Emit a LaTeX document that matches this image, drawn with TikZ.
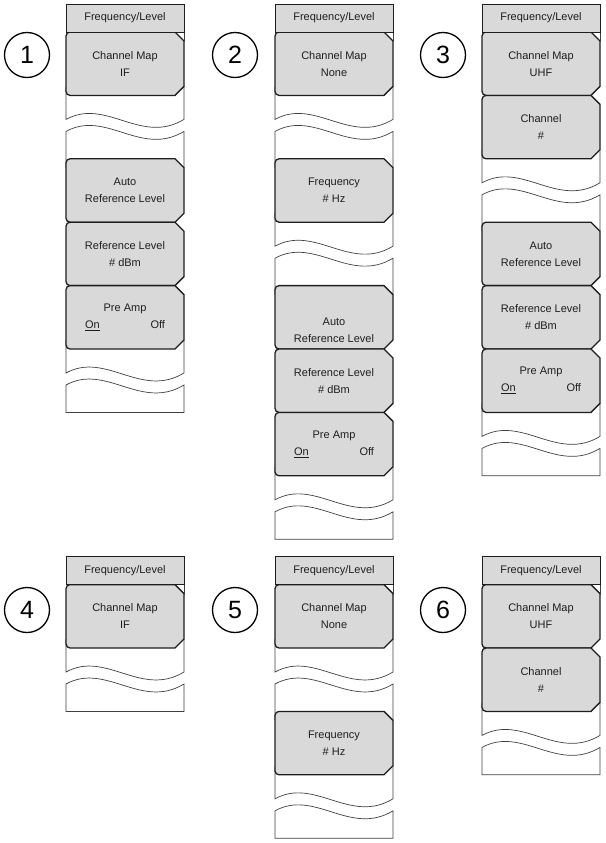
\documentclass[tikz,border=0pt]{standalone}
\usepackage{fontspec}
\setmainfont{Liberation Sans}
\definecolor{btnfill}{RGB}{217,217,217}
\definecolor{ink}{RGB}{30,30,30}
\tikzset{
  btnline/.style={draw=ink, line width=1.3pt, fill=btnfill},
  hdrline/.style={draw=ink, line width=0.9pt, fill=btnfill},
  frameline/.style={draw=black!75, line width=0.7pt},
  lbl/.style={font=\fontsize{11}{17}\selectfont, text=ink, align=center, inner sep=0pt},
  numcirc/.style={circle, draw=black, line width=1.3pt, minimum size=45pt, inner sep=0pt, font=\fontsize{25}{25}\selectfont},
}
% header: name, x, top
\newcommand\MyHdr[3]{%
  \draw[frameline] (#2+118,#3+28) -- (#2+118,#3+38);
  \draw[hdrline] (#2,#3) rectangle ++(118,28);
  \node[lbl] (#1) at (#2+59,#3+14) {Frequency/Level};
}
% button: [yshift], name, x, top, slot, text
\newcommand\MyBtn[6][0]{%
  \pgfmathsetmacro\myBT{#4+#5*63.4}%
  \pgfmathsetmacro\myBB{\myBT+63.4}%
  \pgfmathsetmacro\myBL{#3}%
  \pgfmathsetmacro\myBR{#3+118}%
  \draw[btnline] (\myBR-9,\myBT) -- (\myBR,\myBT+9) -- (\myBR,\myBB-9) -- (\myBR-9,\myBB)
     -- (\myBL+4,\myBB) arc[start angle=90,end angle=180,radius=4]
     -- (\myBL,\myBT+4) arc[start angle=180,end angle=270,radius=4] -- cycle;
  \node[lbl] (#2) at (\myBL+59,\myBT+31.7+#1) {#6};
}
% gap with break: x, top, slot
\newcommand\MyGap[3]{%
  \pgfmathsetmacro\myGT{#2+#3*63.4}%
  \draw[frameline] (#1,\myGT-9) -- (#1,\myGT+24) .. controls (#1+40,\myGT+2) and (#1+75,\myGT+50) .. (#1+118,\myGT+24) -- (#1+118,\myGT-9);
  \draw[frameline] (#1,\myGT+72.4) -- (#1,\myGT+36) .. controls (#1+40,\myGT+14) and (#1+75,\myGT+62) .. (#1+118,\myGT+36) -- (#1+118,\myGT+72.4);
}
% final gap with bottom
\newcommand\MyGapEnd[3]{%
  \pgfmathsetmacro\myGT{#2+#3*63.4}%
  \draw[frameline] (#1,\myGT-9) -- (#1,\myGT+24) .. controls (#1+40,\myGT+2) and (#1+75,\myGT+50) .. (#1+118,\myGT+24) -- (#1+118,\myGT-9);
  \draw[frameline] (#1+118,\myGT+36) .. controls (#1+75,\myGT+62) and (#1+40,\myGT+14) .. (#1,\myGT+36) -- (#1,\myGT+63.4) -- (#1+118,\myGT+63.4) -- cycle;
}
\newcommand\MyAuto{Auto\\Reference Level}
\newcommand\MyRef{Reference Level\\\# dBm}
\newcommand\MyPre{Pre Amp\\\makebox[80pt]{\underline{On}\hfill Off}}
\begin{document}
\begin{tikzpicture}[x=1pt,y=-1pt]
\useasboundingbox (0,0) rectangle (605,843);
% ---------- column 1 ----------
\MyGap{66}{32}{1}
\MyGapEnd{66}{32}{5}
\MyBtn{c1a}{66}{32}{0}{Channel Map\\IF}
\MyBtn{c1b}{66}{32}{2}{\MyAuto}
\MyBtn{c1c}{66}{32}{3}{\MyRef}
\MyBtn{c1d}{66}{32}{4}{\MyPre}
\MyHdr{h1}{66}{4}
% ---------- column 2 ----------
\MyGap{275}{32}{1}
\MyGap{275}{32}{3}
\MyGapEnd{275}{32}{7}
\MyBtn{c2a}{275}{32}{0}{Channel Map\\None}
\MyBtn{c2b}{275}{32}{2}{Frequency\\\# Hz}
\MyBtn[13]{c2c}{275}{32}{4}{\MyAuto}
\MyBtn{c2d}{275}{32}{5}{\MyRef}
\MyBtn{c2e}{275}{32}{6}{\MyPre}
\MyHdr{h2}{275}{4}
% ---------- column 3 ----------
\MyGap{482}{32}{2}
\MyGapEnd{482}{32}{6}
\MyBtn{c3a}{482}{32}{0}{Channel Map\\UHF}
\MyBtn{c3b}{482}{32}{1}{Channel\\\#}
\MyBtn{c3c}{482}{32}{3}{\MyAuto}
\MyBtn{c3d}{482}{32}{4}{\MyRef}
\MyBtn{c3e}{482}{32}{5}{\MyPre}
\MyHdr{h3}{482}{4}
% ---------- column 4 ----------
\MyGapEnd{66}{584.6}{1}
\MyBtn{c4a}{66}{584.6}{0}{Channel Map\\IF}
\MyHdr{h4}{66}{556.6}
% ---------- column 5 ----------
\MyGap{275}{584.6}{1}
\MyGapEnd{275}{584.6}{3}
\MyBtn{c5a}{275}{584.6}{0}{Channel Map\\None}
\MyBtn{c5b}{275}{584.6}{2}{Frequency\\\# Hz}
\MyHdr{h5}{275}{556.6}
% ---------- column 6 ----------
\MyGapEnd{482}{584.6}{2}
\MyBtn{c6a}{482}{584.6}{0}{Channel Map\\UHF}
\MyBtn{c6b}{482}{584.6}{1}{Channel\\\#}
\MyHdr{h6}{482}{556.6}
% ---------- numbers ----------
\node[numcirc] (n1) at (27,55) {1};
\node[numcirc] (n2) at (235,55) {2};
\node[numcirc] (n3) at (443,55) {3};
\node[numcirc] (n4) at (27,610) {4};
\node[numcirc] (n5) at (235,610) {5};
\node[numcirc] (n6) at (443,610) {6};
\end{tikzpicture}
\end{document}
